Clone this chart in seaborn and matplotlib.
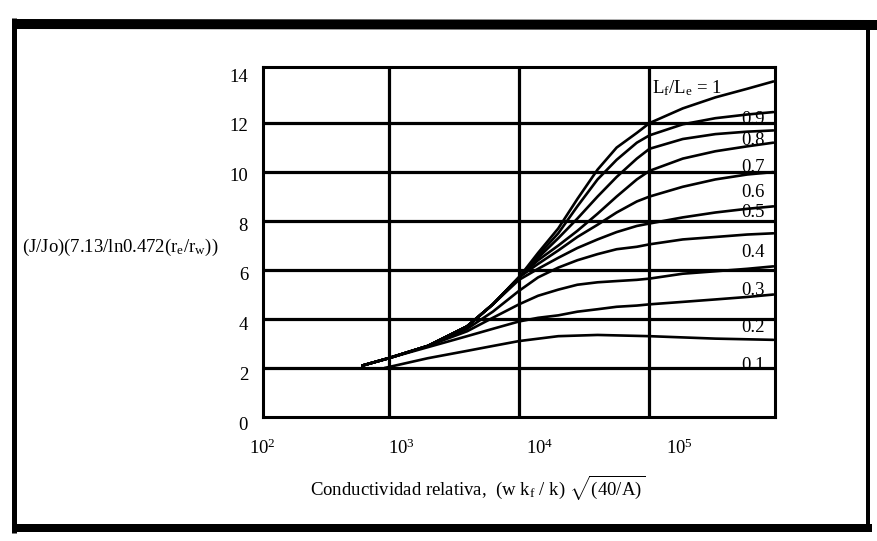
import numpy as np
import pandas as pd
import matplotlib
matplotlib.use("Agg")
import matplotlib.pyplot as plt
import seaborn as sns
from matplotlib.lines import Line2D
from matplotlib.ticker import NullLocator

# ---------------- data ----------------
x_common = [630, 1000, 2000, 4000, 6300, 10000, 14000, 20000, 28000, 40000,
            56000, 80000, 100000, 180000, 320000, 560000, 890000]
y_10 = [2.1, 2.4, 2.9, 3.7, 4.6, 5.7, 6.7, 7.7, 8.9, 10.1, 11.0, 11.6, 12.0, 12.6, 13.05, 13.4, 13.7]
y_09 = [2.1, 2.4, 2.9, 3.7, 4.6, 5.7, 6.6, 7.5, 8.6, 9.7, 10.5, 11.2, 11.5, 11.95, 12.2, 12.35, 12.45]
y_08 = [2.1, 2.4, 2.9, 3.7, 4.6, 5.7, 6.5, 7.3, 8.1, 9.0, 9.8, 10.55, 10.95, 11.35, 11.55, 11.65, 11.7]
y_07 = [2.1, 2.4, 2.9, 3.7, 4.6, 5.7, 6.4, 7.0, 7.6, 8.3, 9.0, 9.7, 10.05, 10.55, 10.85, 11.05, 11.2]
y_06 = [2.1, 2.4, 2.9, 3.7, 4.6, 5.7, 6.25, 6.8, 7.35, 7.85, 8.35, 8.8, 9.0, 9.4, 9.7, 9.9, 10.0]
y_05 = [2.1, 2.4, 2.9, 3.7, 4.6, 5.6, 6.05, 6.5, 6.9, 7.25, 7.55, 7.8, 7.9, 8.15, 8.35, 8.5, 8.6]
y_04 = [2.1, 2.4, 2.9, 3.6, 4.3, 5.15, 5.7, 6.1, 6.4, 6.65, 6.85, 6.95, 7.05, 7.25, 7.35, 7.45, 7.5]
y_03 = [2.1, 2.4, 2.9, 3.5, 4.05, 4.6, 4.95, 5.2, 5.4, 5.5, 5.55, 5.6, 5.65, 5.85, 5.95, 6.05, 6.15]
y_02 = [2.1, 2.4, 2.85, 3.3, 3.6, 3.9, 4.05, 4.15, 4.3, 4.4, 4.5, 4.55, 4.6, 4.7, 4.8, 4.9, 5.0]
x_01 = [930, 2000, 4000, 6300, 10000, 20000, 40000, 100000, 320000, 890000]
y_01 = [2.0, 2.4, 2.7, 2.9, 3.1, 3.3, 3.35, 3.3, 3.2, 3.15]

curve_names = ["1", "0.9", "0.8", "0.7", "0.6", "0.5", "0.4", "0.3", "0.2", "0.1"]
curve_x = [x_common] * 9 + [x_01]
curve_y = [y_10, y_09, y_08, y_07, y_06, y_05, y_04, y_03, y_02, y_01]

# label positions (x, y) for the curve annotations
label_texts = ["L$\\mathregular{_f}$/L$\\mathregular{_e}$ = 1", "0.9", "0.8", "0.7", "0.6",
               "0.5", "0.4", "0.3", "0.2", "0.1"]
label_x = [105000, 620000, 620000, 620000, 620000, 620000, 620000, 620000, 620000, 620000]
label_y = [13.43, 12.16, 11.3, 10.2, 9.18, 8.33, 6.73, 5.18, 3.67, 2.12]

xtick_vals = [1e2, 1e3, 1e4, 1e5]
xtick_labels = ["$\\mathregular{10^{2}}$", "$\\mathregular{10^{3}}$",
                "$\\mathregular{10^{4}}$", "$\\mathregular{10^{5}}$"]
ytick_vals = [0, 2, 4, 6, 8, 10, 12, 14]
grid_x = [1e3, 1e4, 1e5]
grid_y = [2, 4, 6, 8, 10, 12]

ylabel_text = "(J/Jo)(7.13/ln0.472(r$\\mathregular{_e}$/r$\\mathregular{_w}$))"
xlabel_text = ("Conductividad relativa,  (w k$\\mathregular{_f}$ / k) "
               "$\\sqrt{\\mathregular{(40/A)}}$")

rows = []
for name, xs, ys in zip(curve_names, curve_x, curve_y):
    for xv, yv in zip(xs, ys):
        rows.append({"curve": name, "x": xv, "y": yv})
df = pd.DataFrame(rows)

# ---------------- styling ----------------
sns.set_theme(style="white")
plt.rcParams["font.family"] = ["Liberation Serif", "DejaVu Serif"]
plt.rcParams["mathtext.fontset"] = "custom"
plt.rcParams["mathtext.rm"] = "Liberation Serif"
plt.rcParams["mathtext.it"] = "Liberation Serif:italic"
plt.rcParams["mathtext.bf"] = "Liberation Serif:bold"

W, H = 878, 541
fig = plt.figure(figsize=(W / 100, H / 100), dpi=100)
fig.patch.set_facecolor("white")

def fx(px):
    return px / W

def fy(py):
    return 1 - py / H

FS = 13.5

# axis that carries the (offset) tick labels, as in the scanned original
lab = fig.add_axes([fx(262), fy(423), (818 - 262) / W, (423 - 75) / H], frameon=False)
lab.patch.set_visible(False)
lab.set_xscale("log")
lab.set_xlim(1e2, 1e6)
lab.set_ylim(0, 14)
lab.set_xticks(xtick_vals)
lab.set_xticklabels(xtick_labels)
lab.set_yticks(ytick_vals)
lab.set_yticklabels([str(v) for v in ytick_vals])
lab.xaxis.set_minor_locator(NullLocator())
lab.tick_params(axis="x", length=0, pad=11, labelsize=FS, colors="black")
lab.tick_params(axis="y", length=0, pad=10, labelsize=FS, colors="black")

# main plotting axes
ax = fig.add_axes([fx(263), fy(417), (775 - 263) / W, (417 - 67) / H])
ax.set_facecolor("white")
sns.lineplot(data=df, x="x", y="y", hue="curve", palette={n: "black" for n in curve_names},
             estimator=None, sort=False, legend=False, linewidth=1.9, ax=ax, zorder=3)
ax.set_xscale("log")
ax.set_xlim(10 ** 2.038, 10 ** 5.962)
ax.set_ylim(0, 14.29)
ax.set_xticks(grid_x)
ax.set_yticks(grid_y)
ax.xaxis.set_minor_locator(NullLocator())
ax.tick_params(length=0, labelbottom=False, labelleft=False)
ax.grid(True, color="black", linewidth=2.3)
ax.set_xlabel("")
ax.set_ylabel("")
for s in ax.spines.values():
    s.set_color("black")
    s.set_linewidth(2.2)
    s.set_visible(True)

for t, lx, ly in zip(label_texts, label_x, label_y):
    ax.text(lx, ly, t, ha="center" if t[0] != "L" else "left", va="center",
            fontsize=FS, color="black", zorder=4)

fig.text(fx(22), fy(247), ylabel_text, ha="left", va="center", fontsize=FS, color="black")
fig.text(fx(478), fy(488), xlabel_text, ha="center", va="center", fontsize=FS, color="black")

# outer scanned border
border_kw = dict(transform=fig.transFigure, color="black", solid_capstyle="butt")
fig.add_artist(Line2D([fx(14.5), fx(14.5)], [fy(18), fy(533)], linewidth=5 * 0.72, **border_kw))
fig.add_artist(Line2D([fx(12), fx(878)], [fy(24), fy(25)], linewidth=10 * 0.72, **border_kw))
fig.add_artist(Line2D([fx(12), fx(872)], [fy(528), fy(528)], linewidth=8 * 0.72, **border_kw))
fig.add_artist(Line2D([fx(868), fx(868)], [fy(20), fy(532)], linewidth=4 * 0.72, **border_kw))

fig.savefig("out.png", dpi=100, facecolor="white")
